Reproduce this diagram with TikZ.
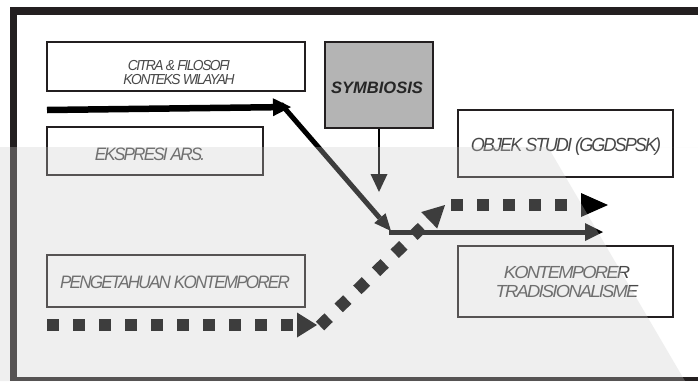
\documentclass[tikz,border=0pt]{standalone}
\usepackage{fontspec}
\setmainfont{Liberation Sans}
\newfontfamily\lightfont[FakeStretch=0.95,LetterSpace=-10]{Liberation Sans}
\newfontfamily\widefont[FakeStretch=1.05,LetterSpace=-10]{Liberation Sans}
\usetikzlibrary{arrows.meta}
\definecolor{framec}{HTML}{231F20}
\definecolor{boxfill}{HTML}{B4B4B4}
\definecolor{txtc}{HTML}{484848}
\begin{document}
\begin{tikzpicture}[x=1pt,y=-1pt,
  box/.style={draw=framec,line width=2pt,inner sep=0pt},
  lbl/.style={anchor=base,inner sep=0pt,text=txtc,text depth=0pt},
  solidarrow/.style={draw=black,line cap=butt},
  dotarrow/.style={draw=black,line width=12pt,dash pattern=on 12pt off 14pt,line cap=butt}
]
\useasboundingbox (0,0) rectangle (698,381);
\fill[white] (0,0) rectangle (698,381);
% frame
\fill[framec] (10,7) rectangle (698,15);
\fill[framec] (10,7) rectangle (17,381);
\fill[framec] (10,377) rectangle (698,381);

% boxes
\node[box,minimum width=258pt,minimum height=49pt] (citra) at (176,66.5) {};
\node[box,fill=boxfill,line width=2.5pt,minimum width=108pt,minimum height=86pt] (sym) at (379,85) {};
\node[box,minimum width=216pt,minimum height=48pt] (ekspresi) at (155,151) {};
\node[box,minimum width=215pt,minimum height=67pt] (objek) at (565.5,143.5) {};
\node[box,minimum width=215pt,minimum height=71pt] (kontemp) at (565.5,281.5) {};
\node[box,minimum width=258pt,minimum height=52pt] (pengetahuan) at (176,281) {};

% texts
\node[inner sep=0pt,text=txtc,align=center,anchor=center,font=\lightfont\itshape\fontsize{14.5}{14}\selectfont] (citrat) at (179,73) {CITRA \& FILOSOFI\\KONTEKS WILAYAH};
\node[anchor=base,inner sep=0pt,text=black!85,font=\bfseries\itshape\fontsize{16.5}{16.5}\selectfont] (symt) at (377,93) {SYMBIOSIS};
\node[lbl,font=\lightfont\itshape\fontsize{18}{18}\selectfont] (ekspresit) at (150,160) {EKSPRESI ARS.};
\node[lbl,font=\lightfont\itshape\fontsize{19}{19}\selectfont] (objekt) at (566,151) {OBJEK STUDI (GGDSPSK)};
\node[lbl,font=\lightfont\itshape\fontsize{18}{18}\selectfont] (pengt) at (175,288) {PENGETAHUAN KONTEMPORER};
\node[inner sep=0pt,text=txtc,align=center,anchor=center,font=\widefont\itshape\fontsize{17.5}{18.5}\selectfont] (kontt) at (567,282) {KONTEMPORER\\TRADISIONALISME};

% coordinates
\coordinate (s1) at (47,110);
\coordinate (k1) at (291,107);
\coordinate (d0) at (281,104);
\coordinate (m) at (391,231);
\coordinate (m0) at (389,232);
\coordinate (e1) at (603,232);
\coordinate (symend) at (379,192);
\coordinate (p0) at (47,325);
\coordinate (p1) at (317,325);
\coordinate (q0) at (320,326);
\coordinate (q1) at (445,205);
\coordinate (r0) at (451,205);
\coordinate (r1) at (608,205);

% solid arrows
\draw[solidarrow,line width=6.5pt,-{Triangle[length=18pt,width=18pt,line width=0pt]}] (s1) -- (k1);
\draw[solidarrow,line width=5pt,-{Triangle[length=17pt,width=15pt,line width=0pt]}] (d0) -- (m);
\draw[solidarrow,line width=5pt,-{Triangle[length=18pt,width=18pt,line width=0pt]}] (m0) -- (e1);
\draw[solidarrow,line width=1.6pt,-{Triangle[length=18pt,width=17pt,line width=0pt]}] (sym.south) -- (symend);

% dotted arrows
\draw[dotarrow,-{Triangle[length=20pt,width=25pt,line width=0pt]}] (p0) -- (p1);
\draw[dotarrow,-{Triangle[length=22pt,width=23pt,line width=0pt]}] (q0) -- (q1);
\draw[dotarrow,-{Triangle[length=27pt,width=24pt,line width=0pt]}] (r0) -- (r1);

% watermark overlay (lower band)
\fill[black!20,opacity=0.3,even odd rule]
  (0,147) rectangle (698,381)
  (548,147) -- (698,147) -- (698,381) -- (685,381) -- cycle;
\end{tikzpicture}
\end{document}
